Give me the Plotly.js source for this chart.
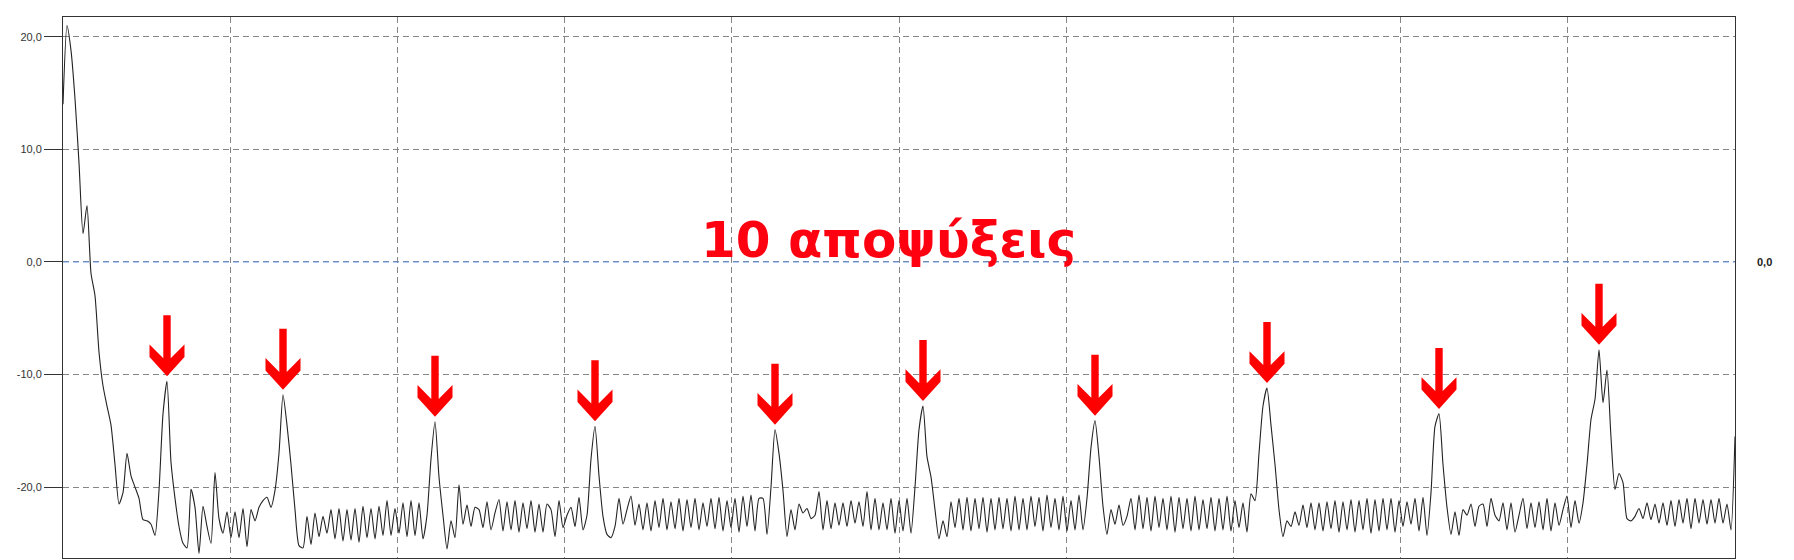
<!DOCTYPE html>
<html>
<head>
<meta charset="utf-8">
<script src="https://cdn.plot.ly/plotly-3.0.1.min.js"></script>
<style>html,body{margin:0;padding:0;background:#fff;}#chart{width:1794px;height:560px;}</style>
</head>
<body>
<div id="chart"></div>
<script>
// signal samples (uniform sampling)
const samples = [
 14.0, 21.0, 18.8, 14.5, 8.8, 2.5, 5.0, -1.0, -3.0, -8.0,
 -11.0, -12.8, -14.5, -18.0, -21.5, -20.5, -17.0, -19.0, -20.0, -21.0,
 -22.9, -23.0, -23.3, -24.3, -20.3, -13.5, -10.6, -17.8, -21.0, -23.5,
 -25.0, -25.4, -20.2, -21.8, -25.9, -21.7, -23.5, -25.0, -18.7, -22.8,
 -24.1, -22.2, -24.5, -22.2, -24.5, -21.9, -25.3, -22.0, -23.0, -21.8,
 -21.2, -20.9, -21.8, -20.3, -17.0, -11.8, -14.5, -18.0, -22.0, -25.2,
 -25.4, -22.6, -25.1, -22.3, -24.4, -22.6, -24.1, -22.0, -24.6, -21.9,
 -24.8, -22.0, -24.7, -21.9, -24.9, -21.7, -24.5, -21.9, -24.6, -21.7,
 -24.3, -21.2, -24.3, -21.9, -24.1, -21.4, -24.4, -21.2, -24.3, -21.4,
 -24.6, -22.5, -17.5, -14.2, -19.1, -22.5, -25.5, -23.0, -24.5, -19.8,
 -23.3, -21.6, -23.5, -21.8, -22.0, -23.6, -21.3, -23.8, -22.3, -21.1,
 -23.9, -21.3, -23.8, -21.2, -24.0, -21.4, -23.7, -21.2, -24.0, -21.5,
 -24.0, -21.5, -22.0, -24.4, -21.2, -23.6, -22.5, -21.8, -23.5, -20.9,
 -23.8, -22.5, -17.5, -14.6, -19.0, -22.6, -24.2, -24.5, -23.5, -21.0,
 -23.3, -22.0, -20.8, -23.4, -21.5, -23.8, -21.4, -23.9, -21.2, -23.6,
 -21.0, -23.8, -21.3, -23.7, -21.0, -23.9, -21.1, -23.6, -21.0, -23.8,
 -21.4, -23.5, -21.0, -23.7, -20.9, -23.9, -21.2, -23.6, -21.0, -24.0,
 -20.8, -23.5, -20.7, -23.9, -21.0, -21.0, -24.2, -20.0, -14.9, -17.0,
 -20.3, -24.4, -22.0, -23.8, -21.5, -22.3, -21.9, -22.8, -22.5, -20.4,
 -23.8, -21.2, -23.7, -21.4, -23.4, -21.4, -23.5, -21.2, -23.2, -21.3,
 -23.5, -20.4, -23.8, -21.0, -23.8, -21.4, -23.8, -21.0, -24.1, -21.2,
 -23.9, -21.0, -24.1, -20.0, -14.9, -12.8, -17.3, -19.1, -22.0, -24.6,
 -23.0, -24.4, -21.3, -23.6, -21.0, -23.8, -20.9, -23.9, -21.0, -23.7,
 -20.9, -24.0, -21.0, -23.8, -20.9, -23.7, -21.0, -23.9, -20.8, -23.8,
 -21.0, -23.8, -20.8, -23.5, -20.9, -23.9, -20.7, -23.6, -21.0, -23.8,
 -20.8, -23.9, -21.2, -23.8, -20.7, -23.8, -21.0, -16.5, -14.1, -17.3,
 -21.7, -24.2, -22.0, -23.3, -21.6, -23.4, -22.6, -21.0, -23.8, -20.7,
 -23.7, -20.9, -23.9, -20.8, -23.6, -21.0, -23.8, -20.8, -24.0, -20.9,
 -23.7, -21.0, -23.9, -20.8, -23.8, -21.1, -23.7, -20.9, -23.9, -21.0,
 -23.8, -20.8, -23.9, -21.2, -23.6, -21.4, -24.0, -20.6, -21.2, -17.0,
 -12.8, -11.2, -14.5, -18.0, -22.0, -24.4, -23.0, -23.5, -22.2, -23.4,
 -21.6, -23.6, -21.4, -23.8, -21.4, -23.9, -21.3, -23.7, -21.2, -24.0,
 -21.3, -23.8, -21.1, -24.0, -21.2, -23.8, -21.0, -24.1, -21.1, -23.9,
 -21.0, -23.8, -21.0, -24.0, -21.2, -23.5, -21.3, -23.3, -21.0, -23.9,
 -20.9, -24.3, -20.5, -14.6, -13.5, -18.0, -21.8, -24.2, -22.2, -24.3,
 -22.0, -22.5, -21.5, -23.5, -21.7, -21.5, -23.5, -21.0, -22.5, -23.0,
 -21.4, -23.8, -21.4, -24.0, -22.5, -21.0, -23.7, -21.4, -23.6, -21.3,
 -23.8, -21.0, -23.9, -21.4, -23.4, -22.0, -20.8, -23.6, -21.2, -23.2,
 -21.4, -18.0, -14.0, -12.2, -7.8, -12.5, -9.6, -15.6, -20.2, -18.8,
 -19.6, -22.8, -23.0, -22.6, -21.9, -22.8, -21.4, -22.9, -21.5, -23.2,
 -21.4, -23.4, -21.2, -23.5, -21.1, -23.2, -21.0, -23.7, -21.0, -23.2,
 -21.1, -23.3, -21.1, -23.2, -21.0, -23.2, -21.5, -23.8, -15.5
];
const tickVals = [-20, -10, 0, 10, 20];
const tickText = ['-20,0', '-10,0', '0,0', '10,0', '20,0'];
const arrowAt = [26, 55, 93, 133, 178, 215, 258, 301, 344, 384];
const titleText = '10 αποψύξεις';
const refLabel = '0,0';

const nLast = samples.length - 1;
const arrowPath = 'M0,5 L-17.5,24.3 L-17.5,36.7 L-3.7,22.9 L-3.7,66 L3.7,66 L3.7,22.9 L17.5,36.7 L17.5,24.3 Z';

const shapes = [{
  type: 'line', xref: 'paper', x0: 0, x1: 1, yref: 'y', y0: 0, y1: 0,
  line: {color: '#5b8fe0', width: 1, dash: '6px,4px'}
}];
arrowAt.forEach(function (i) {
  shapes.push({
    type: 'path', xref: 'x', yref: 'y',
    xsizemode: 'pixel', ysizemode: 'pixel',
    xanchor: i, yanchor: samples[i],
    path: arrowPath,
    fillcolor: '#ff0000', line: {width: 0}
  });
});

const trace = {
  type: 'scatter', mode: 'lines',
  x0: 0, dx: 1, y: samples,
  line: {color: '#222222', width: 1.1, shape: 'spline', smoothing: 0.6},
  hoverinfo: 'skip'
};

const layout = {
  width: 1794, height: 560,
  margin: {l: 63, r: 59, t: 17, b: 2, pad: 0},
  paper_bgcolor: '#ffffff', plot_bgcolor: '#ffffff',
  showlegend: false,
  xaxis: {
    range: [0, nLast], tick0: 0, dtick: nLast / 10,
    showticklabels: false, ticks: '',
    showgrid: true, gridcolor: '#858585', gridwidth: 1, griddash: '6px,4px',
    zeroline: false, showline: true, mirror: true, linecolor: '#333333', linewidth: 1
  },
  yaxis: {
    range: [-26.3, 21.76],
    tickmode: 'array', tickvals: tickVals, ticktext: tickText,
    ticks: 'outside', ticklen: 18, tickcolor: '#333333', tickwidth: 1,
    tickfont: {family: 'Liberation Sans, Arial, sans-serif', size: 11, color: '#333333'},
    showgrid: true, gridcolor: '#858585', gridwidth: 1, griddash: '6px,4px',
    zeroline: false, showline: true, mirror: true, linecolor: '#333333', linewidth: 1
  },
  shapes: shapes,
  annotations: [
    {
      text: '<b>' + titleText + '</b>', xref: 'paper', x: 0.494, yref: 'y', y: 0,
      xanchor: 'center', yanchor: 'bottom', yshift: -9, showarrow: false,
      font: {family: 'DejaVu Sans, sans-serif', size: 50, color: '#ff0010'}
    },
    {
      text: '<b>' + refLabel + '</b>', xref: 'paper', x: 1, yref: 'y', y: 0,
      xanchor: 'left', yanchor: 'middle', xshift: 20, showarrow: false,
      font: {family: 'Liberation Sans, Arial, sans-serif', size: 11, color: '#222222'}
    }
  ]
};

Plotly.newPlot('chart', [trace], layout, {displayModeBar: false, staticPlot: true});
</script>
</body>
</html>
